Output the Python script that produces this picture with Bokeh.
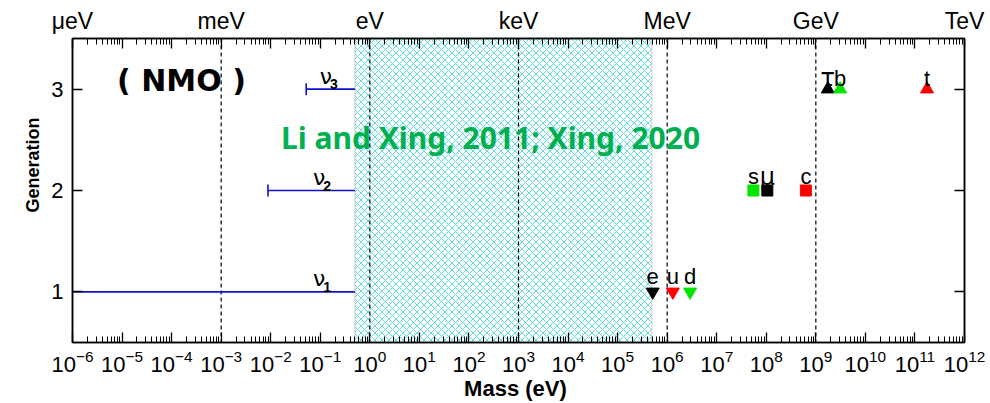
import math
from bokeh.plotting import figure
from bokeh.models import (FixedTicker, LogAxis, LinearAxis, Span, Label, Title,
                          ColumnDataSource, Range1d, BoxAnnotation, LogTickFormatter)
from bokeh.embed import file_html
from bokeh.resources import INLINE
from bokeh.core.properties import value, field

# ---------------- data ----------------
decades = list(range(-6, 13))                      # x-axis: 10^-6 ... 10^12 eV
unit_names = {-6: "μeV", -3: "meV", 0: "eV", 3: "keV", 6: "MeV", 9: "GeV", 12: "TeV"}
unit_lines = [-3, 0, 3, 6, 9]                      # dashed guide lines (exponents)
generations = [1, 2, 3]

# neutrino mass ranges (eV), normal mass ordering
nu_sub = ["1", "2", "3"]
nu_gen = [1, 2, 3]
nu_min = [1e-6, 0.0088, 0.052]
nu_max = [0.5, 0.5, 0.5]
nu_has_floor = [False, True, True]

# mass gap (eV): from neutrino upper bound to the electron mass
gap_low = 0.5
gap_high = 4.87e5

# charged fermion masses (eV)
f_name = ["e", "u", "d", "μ", "c", "s", "τ", "t", "b"]
f_mass = [5.1e5, 1.3e6, 2.9e6, 1.05e8, 6.3e8, 5.5e7, 1.74e9, 1.75e11, 3.1e9]
f_gen = [1, 1, 1, 2, 2, 2, 3, 3, 3]
f_type = ["lepton", "up", "down", "lepton", "up", "down", "lepton", "up", "down"]

# ---------------- styles ----------------
type_color = {"lepton": "#000000", "up": "#ff0000", "down": "#00e600"}
gen_marker = {1: "inverted_triangle", 2: "square", 3: "triangle"}
gen_size = {1: 13, 2: 11, 3: 13}
gen_label_off = {1: -15, 2: -14, 3: -11}
TICK_FONT = "Liberation Sans"
GREEK_FONT = "DejaVu Sans"

major = [float(f"1e{k}") for k in decades]
minor = [m * float(f"1e{k}") for k in decades[:-1] for m in range(2, 10)]

p = figure(width=990, height=403, x_axis_type="log",
           x_range=Range1d(1e-6, 1e12), y_range=Range1d(0.5, 3.5),
           output_backend="svg", toolbar_location=None,
           min_border_left=72, min_border_right=26,
           min_border_top=38, min_border_bottom=61)
p.xgrid.visible = False
p.ygrid.visible = False
p.outline_line_color = "black"
p.outline_line_width = 1.5
p.background_fill_color = "white"
p.border_fill_color = "white"


def style_axis(ax, size="22px"):
    ax.axis_line_color = "black"
    ax.axis_line_width = 1.5
    ax.major_tick_line_color = "black"
    ax.major_tick_line_width = 1.3
    ax.minor_tick_line_color = "black"
    ax.minor_tick_line_width = 1.0
    ax.major_tick_in = 10
    ax.major_tick_out = 0
    ax.minor_tick_in = 6
    ax.minor_tick_out = 0
    ax.major_label_text_font = TICK_FONT
    ax.major_label_text_font_size = size
    ax.major_label_text_color = "black"
    ax.axis_label_text_color = "black"


# bottom axis: 10^n with superscript exponents
bx = p.xaxis[0]
bx.ticker = FixedTicker(ticks=major, minor_ticks=minor)
bx.formatter = LogTickFormatter()
style_axis(bx)
bx.major_label_standoff = 7
bx.axis_label = "Mass  (eV)"
bx.axis_label_text_font = TICK_FONT
bx.axis_label_text_font_style = "bold"
bx.axis_label_text_font_size = "22px"
bx.axis_label_standoff = 1

# top axis with energy unit names
tx = LogAxis(ticker=FixedTicker(ticks=major, minor_ticks=minor))
tx.major_label_overrides = {t: unit_names.get(k, "") for t, k in zip(major, decades)}
style_axis(tx, "23px")
tx.major_label_standoff = 5
p.add_layout(tx, "above")

# left axis (label drawn as a side title, raised like the original)
ly = p.yaxis[0]
ly.ticker = FixedTicker(ticks=generations)
style_axis(ly)
ly.minor_tick_line_color = None
ly.major_label_standoff = 9
p.add_layout(Title(text="Generation", align="right", offset=79,
                   text_font=TICK_FONT, text_font_style="bold",
                   text_font_size="18px", text_color="black", standoff=12),
             "left")

# right axis
ry = LinearAxis(ticker=FixedTicker(ticks=generations))
style_axis(ry)
ry.minor_tick_line_color = None
ry.major_label_overrides = {g: "" for g in generations}
ry.major_label_text_font_size = "1px"
p.add_layout(ry, "right")

# hatched mass gap
gap = BoxAnnotation(left=gap_low, right=gap_high, fill_color=None,
                    hatch_pattern="x", hatch_color="#5fdbe4", hatch_scale=7,
                    hatch_weight=1.0, line_color="#8a8a8a", line_width=1.5,
                    level="underlay")
p.add_layout(gap)

# dashed unit lines
for k in unit_lines:
    p.add_layout(Span(location=float(f"1e{k}"), dimension="height",
                      line_color="black", line_width=1.2, line_dash="4 3",
                      level="underlay"))

# neutrino mass ranges
nsrc = ColumnDataSource(dict(x0=nu_min, x1=nu_max, y=nu_gen, sub=nu_sub,
                             nu=["ν"] * 3, lx=[0.095, 0.095, 0.13]))
p.segment(x0="x0", y0="y", x1="x1", y1="y", source=nsrc,
          line_color="#1010cc", line_width=1.6)
fsrc = ColumnDataSource(dict(x=[m for m, f in zip(nu_min, nu_has_floor) if f],
                             y=[g for g, f in zip(nu_gen, nu_has_floor) if f]))
p.scatter(x="x", y="y", source=fsrc, marker="dash", angle=math.pi / 2,
          size=12, line_color="#1010cc", line_width=1.6)
p.text(x="lx", y="y", text="nu", source=nsrc, text_align="center",
       text_baseline="alphabetic", y_offset=-13, text_font=value(GREEK_FONT),
       text_font_size="22px", text_color="black")
p.text(x="lx", y="y", text="sub", source=nsrc, text_align="left",
       text_baseline="alphabetic", x_offset=4, y_offset=-5,
       text_font=value(TICK_FONT), text_font_style="bold",
       text_font_size="14px", text_color="black")

# charged fermions
greek = {"μ", "τ"}
src = ColumnDataSource(dict(
    x=f_mass, y=f_gen, name=f_name,
    color=[type_color[t] for t in f_type],
    marker=[gen_marker[g] for g in f_gen],
    size=[gen_size[g] for g in f_gen],
    yoff=[gen_label_off[g] for g in f_gen],
    font=[GREEK_FONT if n in greek else TICK_FONT for n in f_name],
    fsize=["24px" if n in greek else "22px" for n in f_name]))
p.scatter(x="x", y="y", source=src, marker=field("marker"), size="size",
          fill_color="color", line_color="color")
p.text(x="x", y="y", text="name", source=src, text_align="center",
       text_baseline="alphabetic", y_offset="yoff", text_font=field("font"),
       text_font_size=field("fsize"), text_color="black")

# annotations
p.add_layout(Label(x=1.58e-4, y=3.09, text="( NMO )", text_align="center",
                   text_baseline="middle", text_font="DejaVu Sans",
                   text_font_style="bold", text_font_size="30px",
                   text_color="black"))
p.add_layout(Label(x=272, y=2.527, text="Li and Xing, 2011; Xing, 2020",
                   text_align="center", text_baseline="middle",
                   text_font="Noto Sans", text_font_style="bold",
                   text_font_size="30px", text_color="#00b050"))

open("out.html", "w").write(file_html(p, INLINE))
